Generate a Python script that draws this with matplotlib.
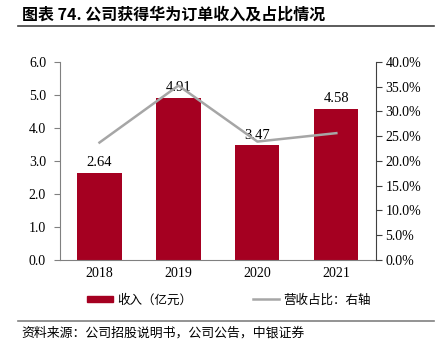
import matplotlib.pyplot as plt
from matplotlib.lines import Line2D
from matplotlib.patches import Patch

# Datos
years = ['2018', '2019', '2020', '2021']
revenue = [2.64, 4.91, 3.47, 4.58]          # 收入（亿元）
share = [23.7, 35.2, 23.9, 25.6]            # 营收占比 (%)

bar_color = '#A50021'
line_color = '#A6A6A6'
serif = 'Liberation Serif'
cjk = ['Noto Sans CJK SC', 'DejaVu Sans']

fig = plt.figure(figsize=(4.38, 3.54), dpi=100)
ax = fig.add_axes([0.137, 0.2655, 0.721, 0.56])
ax2 = ax.twinx()

x = range(len(years))
ax.bar(x, revenue, width=0.56, color=bar_color, zorder=2)
for i, v in enumerate(revenue):
    ax.text(i, v + 0.1, f'{v:.2f}', ha='center', va='bottom',
            fontsize=10.5, family=serif)

ax2.plot(x, share, color=line_color, lw=1.8, zorder=3)

ax.set_xlim(-0.5, 3.5)
ax.set_ylim(0, 6)
ax.set_yticks([i * 1.0 for i in range(7)])
ax.set_yticklabels([f'{i:.1f}' for i in range(7)])
ax2.set_ylim(0, 40)
ax2.set_yticks([i * 5 for i in range(9)])
ax2.set_yticklabels([f'{i * 5:.1f}%' for i in range(9)])
ax.set_xticks(list(x))
ax.set_xticklabels(years)

for a in (ax, ax2):
    for s in a.spines.values():
        s.set_visible(False)
ax.spines['left'].set_visible(True)
ax.spines['left'].set_color('#808080')
ax.spines['bottom'].set_visible(True)
ax.spines['bottom'].set_color('#808080')
ax2.spines['right'].set_visible(True)
ax2.spines['right'].set_color('#404040')

ax.tick_params(axis='y', length=4, color='#808080', labelsize=10, pad=6)
ax.tick_params(axis='x', length=0, labelsize=10, pad=5)
ax2.tick_params(axis='y', length=4, color='#404040', labelsize=10, pad=3)
for lbl in ax.get_xticklabels() + ax.get_yticklabels() + ax2.get_yticklabels():
    lbl.set_family(serif)

# Título
fig.text(0.05, 0.96, '图表 74. 公司获得华为订单收入及占比情况', fontsize=11.5,
         fontweight='bold', family=cjk, va='center')
fig.add_artist(Line2D([0.042, 0.99], [0.927, 0.927], color='#404040', lw=1.2))

# Leyenda
handles = [Patch(color=bar_color), Line2D([0], [0], color=line_color, lw=1.8)]
fig.legend(handles, ['收入（亿元）', '营收占比：右轴'], loc='center',
           bbox_to_anchor=(0.522, 0.153), ncol=2, frameon=False,
           prop={'family': cjk, 'size': 9}, handlelength=2.1,
           handleheight=0.45, handletextpad=0.3, columnspacing=4.9)

fig.add_artist(Line2D([0.042, 0.99], [0.094, 0.094], color='#808080', lw=1.2))
fig.text(0.048, 0.06, '资料来源：公司招股说明书，公司公告，中银证券', fontsize=9.3,
         family=cjk, va='center', style='italic')

fig.savefig('out.png', dpi=100)
